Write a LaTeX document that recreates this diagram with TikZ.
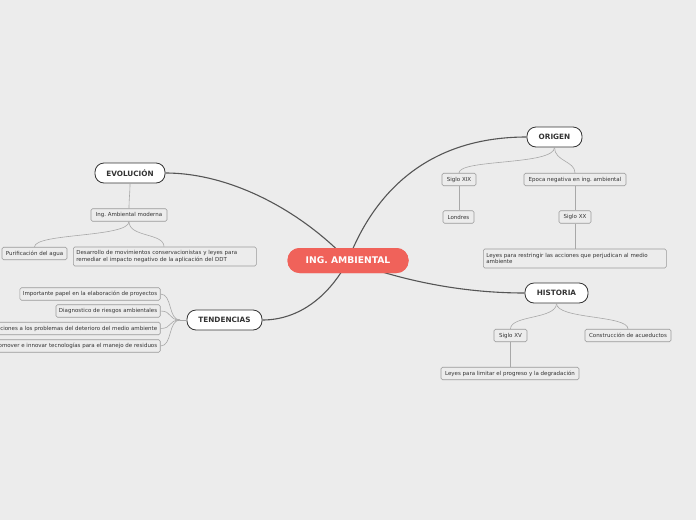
\documentclass[tikz,border=0pt]{standalone}
\usepackage{fontspec}
\setmainfont{DejaVu Sans}
\frenchspacing
\definecolor{bgc}{HTML}{ECECEC}
\definecolor{redc}{HTML}{F0625A}
\definecolor{darkc}{HTML}{333333}
\definecolor{linec}{HTML}{555555}
\definecolor{sublinec}{HTML}{A8A8A8}
\definecolor{subborder}{HTML}{9A9A9A}
\begin{document}
\begin{tikzpicture}[x=1pt,y=-1pt,
  mainbox/.style={draw=darkc, line width=0.8pt, fill=white, rounded corners=9pt,
    font=\fontsize{7.3}{8}\selectfont\bfseries, text=darkc, minimum height=20pt, inner xsep=8pt, inner ysep=0pt},
  rootbox/.style={fill=redc, rounded corners=12pt, text=white,
    font=\fontsize{9.2}{10}\selectfont\bfseries, minimum height=25pt, minimum width=121pt, inner sep=0pt},
  subbox/.style={draw=subborder, line width=0.6pt, fill=bgc, rounded corners=1.5pt,
    font=\fontsize{5.5}{6.3}\selectfont, text=darkc, minimum height=12.5pt, inner xsep=3pt, inner ysep=1pt},
  mainlink/.style={draw=linec, line width=1.1pt},
  sublink/.style={draw=sublinec, line width=0.6pt},
]
\useasboundingbox[fill=bgc] (0,0) rectangle (696,520);

% main nodes
\node[rootbox] (root) at (348,260.5) {ING. AMBIENTAL};
\node[mainbox, minimum width=55pt] (origen) at (554.5,137) {ORIGEN};
\node[mainbox, minimum width=63pt] (historia) at (556.5,293) {HISTORIA};
\node[mainbox, minimum width=70pt] (evol) at (130,173) {EVOLUCIÓN};
\node[mainbox, minimum width=75pt] (tend) at (224.5,320) {TENDENCIAS};

% ORIGEN children
\node[subbox, minimum width=34pt] (xix) at (459,179.5) {Siglo XIX};
\node[subbox, minimum width=102pt] (epoca) at (575,179.5) {Epoca negativa en ing. ambiental};
\node[subbox, minimum width=31pt] (londres) at (458.5,217) {Londres};
\node[subbox, minimum width=32pt] (xx) at (575,217) {Siglo XX};
\node[subbox, minimum width=183pt, minimum height=19pt, text width=177pt, align=left, anchor=west] (leyes1) at (483,258.5) {Leyes para restringir las acciones que perjudican al medio\\ambiente};

% HISTORIA children
\node[subbox, minimum width=33pt] (xv) at (510.5,335.5) {Siglo XV};
\node[subbox, minimum width=86pt] (acued) at (628,335.5) {Construcción de acueductos};
\node[subbox, minimum width=138pt] (leyes2) at (510,373.5) {Leyes para limitar el progreso y la degradación};

% EVOLUCION children
\node[subbox, minimum width=76pt] (moderna) at (129,215) {Ing. Ambiental moderna};
\node[subbox, minimum width=65pt] (purif) at (34.5,253.5) {Purificación del agua};
\node[subbox, minimum width=183pt, minimum height=19pt, text width=177pt, align=left, anchor=west] (desarrollo) at (73,256.5) {Desarrollo de movimientos conservacionistas y leyes para\\remediar el impacto negativo de la aplicación del DDT};

% TENDENCIAS children
\node[subbox, anchor=east] (t1) at (160.5,294) {Importante papel en la elaboración de proyectos};
\node[subbox, anchor=east] (t2) at (160.5,311) {Diagnostico de riesgos ambientales};
\node[subbox, anchor=east] (t3) at (160.5,328.5) {Soluciones a los problemas del deterioro del medio ambiente};
\node[subbox, anchor=east] (t4) at (160.5,346) {Promover e innovar tecnologías para el manejo de residuos};

% main links
\path[mainlink] (root.center) .. controls (375,190) and (430,137) .. (origen.west);
\path[mainlink] (root.center) .. controls (300,210) and (230,173) .. (evol.east);
\path[mainlink] (root.center) .. controls (330,295) and (300,320) .. (tend.east);
\path[mainlink] (root.center) .. controls (400,280) and (460,293) .. (historia.west);
\node[rootbox] at (root.center) {ING. AMBIENTAL};

% sub links
\path[sublink] (origen.south) .. controls +(0,18) and +(0,-14) .. (xix.north);
\path[sublink] (origen.south) .. controls +(0,14) and +(0,-12) .. (epoca.north);
\path[sublink] (xix.south) -- (londres.north -| xix.south);
\path[sublink] (epoca.south) -- (xx.north);
\path[sublink] (xx.south) -- (leyes1.north -| xx.south);

\path[sublink] (historia.south) .. controls +(0,16) and +(0,-14) .. (xv.north);
\path[sublink] (historia.south) .. controls +(0,16) and +(0,-14) .. (acued.north);
\path[sublink] (xv.south) -- (leyes2.north -| xv.south);

\path[sublink] (evol.south) .. controls +(0,10) and +(0,-10) .. (moderna.north);
\path[sublink] (moderna.south) .. controls +(0,16) and +(0,-14) .. (purif.north);
\path[sublink] (moderna.south) .. controls +(0,16) and +(0,-14) .. (desarrollo.north -| 164,0);

\coordinate (tj) at (180,320);
\path[sublink] (tend.west) -- (tj);
\foreach \t in {t1,t2,t3,t4}{
  \path[sublink] (tj) .. controls +(-12,0) and +(12,0) .. (\t.east);
}
\end{tikzpicture}
\end{document}
